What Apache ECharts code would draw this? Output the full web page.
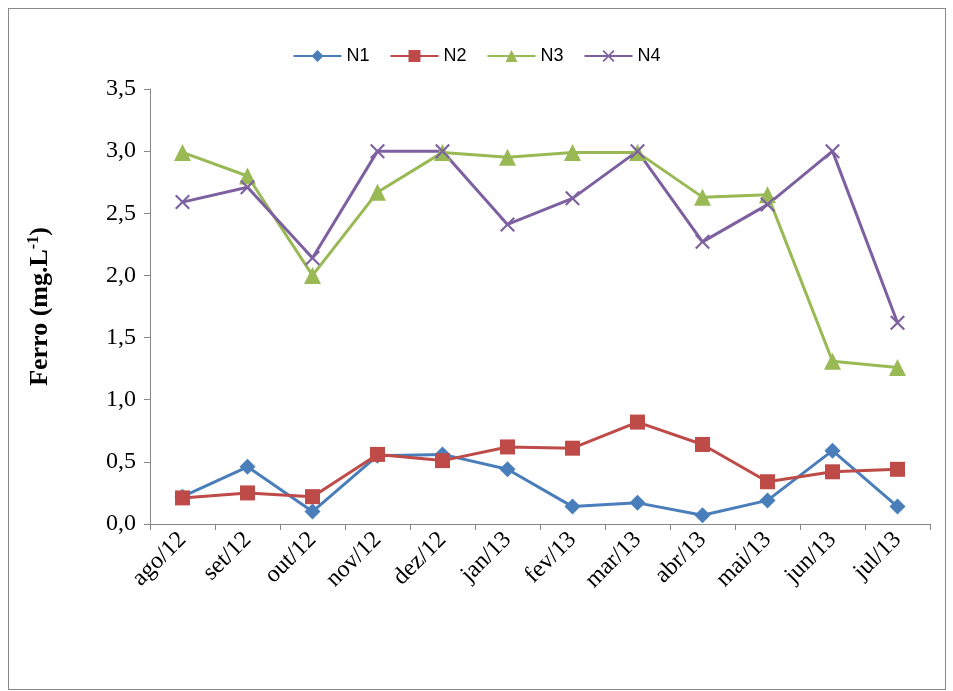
<!DOCTYPE html>
<html>
<head>
<meta charset="utf-8">
<script src="https://cdn.jsdelivr.net/npm/echarts@6/dist/echarts.min.js"></script>
<style>
html,body{margin:0;padding:0;background:#fff;}
#frame{position:absolute;left:8px;top:8px;width:938px;height:682px;border:1px solid #888;box-sizing:border-box;}
#container{position:absolute;left:0;top:0;width:953px;height:691px;}
</style>
</head>
<body>
<div id="frame"></div>
<div id="container"></div>
<script>
const months = ['ago/12','set/12','out/12','nov/12','dez/12','jan/13','fev/13','mar/13','abr/13','mai/13','jun/13','jul/13'];
const n1 = [0.22,0.46,0.10,0.55,0.56,0.44,0.14,0.17,0.07,0.19,0.59,0.14];
const n2 = [0.21,0.25,0.22,0.56,0.51,0.62,0.61,0.82,0.64,0.34,0.42,0.44];
const n3 = [2.99,2.80,2.00,2.67,2.99,2.95,2.99,2.99,2.63,2.65,1.31,1.26];
const n4 = [2.59,2.71,2.14,3.00,3.00,2.41,2.62,3.00,2.27,2.57,3.00,1.62];

window.onload = function () {
    const myChart = echarts.init(document.getElementById('container'));
    const xPath = 'path://M0,1L1,0L5,4L9,0L10,1L6,5L10,9L9,10L5,6L1,10L0,9L4,5Z';
    function line(name, data, color, symbol, size) {
        return {
            name: name, type: 'line', data: data, symbol: symbol, symbolSize: size,
            lineStyle: {color: color, width: 3}, itemStyle: {color: color},
            animation: false
        };
    }
    myChart.setOption({
        animation: false,
        legend: {
            top: 42, left: 'center', itemWidth: 48, itemHeight: 15, itemGap: 20,
            textStyle: {fontFamily: 'Liberation Sans', fontSize: 18, color: '#000'}
        },
        grid: {left: 150, right: 23, top: 89, bottom: 167},
        xAxis: {
            type: 'category', data: months, boundaryGap: true,
            axisLine: {lineStyle: {color: '#868686'}},
            axisTick: {show: true, length: 6, lineStyle: {color: '#868686'}},
            axisLabel: {rotate: 45, fontFamily: 'Liberation Serif', fontSize: 24, color: '#000', margin: 12}
        },
        yAxis: {
            type: 'value', min: 0, max: 3.5, interval: 0.5,
            splitLine: {show: false},
            axisLine: {show: true, lineStyle: {color: '#868686'}},
            axisTick: {show: true, length: 6, lineStyle: {color: '#868686'}},
            axisLabel: {fontFamily: 'Liberation Serif', fontSize: 24, color: '#000', margin: 14,
                formatter: v => v.toFixed(1).replace('.', ',')},
            name: '{b|Ferro (mg.L}{s|-1}{b|)}', nameLocation: 'middle', nameGap: 96, nameRotate: 90,
            nameTextStyle: {rich: {
                b: {fontFamily: 'Liberation Serif', fontWeight: 'bold', fontSize: 26, color: '#000'},
                s: {fontFamily: 'Liberation Serif', fontWeight: 'bold', fontSize: 16, color: '#000', verticalAlign: 'top', padding: [0,0,12,0]}
            }}
        },
        series: [
            line('N1', n1, '#4A7EBB', 'diamond', 16),
            line('N2', n2, '#BE4B48', 'rect', 15),
            line('N3', n3, '#98B954', 'triangle', 17),
            line('N4', n4, '#7D60A0', xPath, 15)
        ]
    });
};
</script>
</body>
</html>
